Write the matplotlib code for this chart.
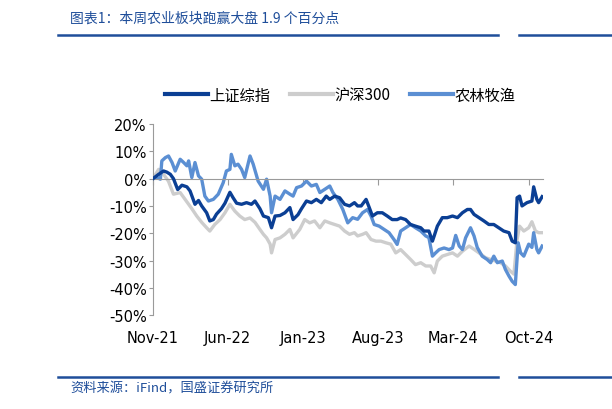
import matplotlib

matplotlib.use("Agg")
import matplotlib.dates as mdates
import matplotlib.pyplot as plt
import pandas as pd
from matplotlib.lines import Line2D
from matplotlib.ticker import FuncFormatter

plt.rcParams["font.family"] = ["DejaVu Sans", "Noto Sans CJK SC"]

TITLE = "图表1：本周农业板块跑赢大盘 1.9 个百分点"
SOURCE = "资料来源：iFind，国盛证券研究所"
SERIES_NAMES = ["上证综指", "沪深300", "农林牧渔"]

# 上证综指 (cumulative change, %)
sh_dates = [
    "2021-11-01", "2021-11-17", "2021-12-01", "2021-12-10", "2021-12-20", "2021-12-29",
    "2022-01-10", "2022-01-22", "2022-02-05", "2022-02-14", "2022-02-28", "2022-03-10",
    "2022-03-19", "2022-04-02", "2022-04-11", "2022-04-21", "2022-04-30", "2022-05-14",
    "2022-05-24", "2022-06-07", "2022-06-16", "2022-06-26", "2022-07-10", "2022-07-24",
    "2022-08-07", "2022-08-17", "2022-08-31", "2022-09-10", "2022-09-24", "2022-10-03",
    "2022-10-13", "2022-10-27", "2022-11-10", "2022-11-24", "2022-12-03", "2022-12-17",
    "2022-12-27", "2023-01-10", "2023-01-24", "2023-02-07", "2023-02-21", "2023-03-07",
    "2023-03-17", "2023-03-31", "2023-04-14", "2023-04-28", "2023-05-12", "2023-05-26",
    "2023-06-04", "2023-06-14", "2023-06-28", "2023-07-07", "2023-07-16", "2023-07-30",
    "2023-08-13", "2023-08-27", "2023-09-10", "2023-09-24", "2023-10-04", "2023-10-18",
    "2023-11-01", "2023-11-15", "2023-11-30", "2023-12-09", "2023-12-23", "2024-01-02",
    "2024-01-07", "2024-01-16", "2024-01-30", "2024-02-13", "2024-02-28", "2024-03-13",
    "2024-03-27", "2024-04-10", "2024-04-19", "2024-04-29", "2024-05-13", "2024-05-27",
    "2024-06-10", "2024-06-24", "2024-07-08", "2024-07-22", "2024-08-06", "2024-08-15",
    "2024-08-24", "2024-08-29", "2024-09-05", "2024-09-12", "2024-09-26", "2024-10-10",
    "2024-10-15", "2024-10-24", "2024-10-29", "2024-11-08",
]
sh_values = [
    0, 1.6, 2.8, 2.4, 1.6, 0,
    -4, -2.4, -3, -4.5, -9.4, -8,
    -10, -12.5, -15.5, -15, -13, -11,
    -9, -5, -7, -9, -9.4, -8.8,
    -9.4, -8.2, -11, -13.7, -14.3, -18,
    -13.7, -13.5, -12.5, -10.6, -15, -13.2,
    -11, -8.2, -8.8, -7.6, -8.8, -6.4,
    -7.6, -6.4, -7, -9.4, -10, -8.8,
    -10, -10, -7.6, -10.6, -13.7, -12.5,
    -12.5, -13.7, -15, -15, -14.4, -15,
    -16.8, -17.4, -18, -19.2, -19.2, -22.9,
    -21, -17.4, -14.3, -14.3, -13.7, -14.3,
    -12.5, -11.3, -11.3, -13.1, -14.3, -15.5,
    -16.8, -16.8, -18, -19.2, -19.8, -22.9,
    -23.5, -7, -6.4, -10, -8.8, -8.2,
    -3, -7.6, -8.8, -6.6,
]

# 沪深300
hs_dates = [
    "2021-11-01", "2021-11-17", "2021-12-01", "2021-12-15", "2021-12-29", "2022-01-17",
    "2022-01-31", "2022-02-19", "2022-03-05", "2022-03-19", "2022-04-02", "2022-04-11",
    "2022-04-25", "2022-05-10", "2022-05-24", "2022-06-07", "2022-06-21", "2022-07-05",
    "2022-07-19", "2022-08-03", "2022-08-17", "2022-08-31", "2022-09-10", "2022-09-19",
    "2022-09-29", "2022-10-03", "2022-10-13", "2022-10-27", "2022-11-10", "2022-11-24",
    "2022-12-03", "2022-12-22", "2023-01-05", "2023-01-19", "2023-02-02", "2023-02-17",
    "2023-03-03", "2023-03-17", "2023-03-31", "2023-04-14", "2023-04-28", "2023-05-12",
    "2023-05-26", "2023-06-04", "2023-06-18", "2023-06-28", "2023-07-12", "2023-07-26",
    "2023-08-09", "2023-08-23", "2023-09-06", "2023-09-20", "2023-10-04", "2023-10-18",
    "2023-11-01", "2023-11-15", "2023-11-30", "2023-12-14", "2023-12-28", "2024-01-07",
    "2024-01-16", "2024-01-30", "2024-02-13", "2024-02-28", "2024-03-13", "2024-03-27",
    "2024-04-15", "2024-04-29", "2024-05-13", "2024-06-01", "2024-06-15", "2024-06-29",
    "2024-07-13", "2024-07-27", "2024-08-10", "2024-08-20", "2024-08-29", "2024-09-05",
    "2024-09-17", "2024-10-01", "2024-10-10", "2024-10-20", "2024-10-29", "2024-11-08",
]
hs_values = [
    0, 3.4, 1.6, -1, -5.7, -5.1,
    -7.6, -11, -13.7, -16, -18, -19.2,
    -16.8, -15, -12.5, -9.4, -11.9, -13.7,
    -15, -14.4, -16, -18.6, -20.4, -21.7,
    -24, -27.2, -22.3, -21.7, -20.4, -18.6,
    -21.7, -18.6, -15, -16.2, -15.5, -18,
    -15.5, -16.2, -16.8, -17.4, -19.2, -20.4,
    -19.8, -21, -20.4, -19.8, -22.3, -22.9,
    -22.9, -23.5, -24, -27.2, -26, -27.8,
    -29.6, -31.5, -30.8, -32, -32, -34.5,
    -30.2, -28.4, -27.8, -27.2, -28.4, -26.6,
    -24.7, -25.9, -27.2, -29, -29.6, -30.2,
    -30.8, -32, -33.9, -35, -22.3, -17.4,
    -19.2, -18, -15.8, -19.2, -19.8, -19.8,
]

# 农林牧渔
ag_dates = [
    "2021-11-01", "2021-11-12", "2021-11-22", "2021-11-26", "2021-12-06", "2021-12-15",
    "2021-12-25", "2022-01-03", "2022-01-17", "2022-01-27", "2022-02-05", "2022-02-10",
    "2022-02-19", "2022-02-28", "2022-03-10", "2022-03-19", "2022-03-28", "2022-04-07",
    "2022-04-21", "2022-05-05", "2022-05-19", "2022-05-28", "2022-06-07", "2022-06-11",
    "2022-06-21", "2022-06-30", "2022-07-10", "2022-07-19", "2022-08-03", "2022-08-12",
    "2022-08-26", "2022-09-10", "2022-09-19", "2022-09-29", "2022-10-03", "2022-10-13",
    "2022-10-27", "2022-11-10", "2022-11-24", "2022-12-03", "2022-12-13", "2022-12-27",
    "2023-01-10", "2023-01-24", "2023-02-07", "2023-02-17", "2023-03-03", "2023-03-17",
    "2023-03-26", "2023-04-09", "2023-04-23", "2023-05-07", "2023-05-21", "2023-06-04",
    "2023-06-18", "2023-07-02", "2023-07-12", "2023-07-21", "2023-08-04", "2023-08-18",
    "2023-09-01", "2023-09-15", "2023-09-24", "2023-10-04", "2023-10-18", "2023-11-01",
    "2023-11-15", "2023-11-30", "2023-12-14", "2023-12-23", "2024-01-02", "2024-01-11",
    "2024-01-21", "2024-02-04", "2024-02-18", "2024-02-28", "2024-03-08", "2024-03-18",
    "2024-03-27", "2024-04-05", "2024-04-19", "2024-04-29", "2024-05-08", "2024-05-22",
    "2024-06-05", "2024-06-15", "2024-06-24", "2024-07-04", "2024-07-18", "2024-07-27",
    "2024-08-06", "2024-08-15", "2024-08-24", "2024-09-01", "2024-09-08", "2024-09-17",
    "2024-10-01", "2024-10-10", "2024-10-15", "2024-10-24", "2024-10-29", "2024-11-08",
]
ag_values = [
    0, 0.4, -0.2, 6.5, 7.7, 8.3,
    5.9, 2.8, 7.1, 5.9, 4.7, 6.5,
    0.4, 5.9, 1, -0.2, -6.4, -8.2,
    -7.6, -5.7, -1.5, 2.8, 3.4, 8.9,
    4.7, 5.3, 3.4, 0.4, 8.3, 5.3,
    -0.9, -3.9, -0.2, -6.4, -12.5, -6.4,
    -7.6, -4.5, -5.7, -6.4, -3.3, -2.7,
    -0.9, -2.7, -2.1, -5.1, -3.9, -2.7,
    -5.1, -7.6, -11.3, -16.2, -14.3, -14.9,
    -12.5, -11.3, -13.7, -16.8, -17.4, -18.6,
    -19.8, -22.3, -24.1, -19.2, -18, -16.8,
    -18, -19.2, -21, -21.6, -28.4, -27.2,
    -26, -25.4, -26, -25.4, -20.8, -24.7,
    -26, -21.7, -18, -21, -25.2, -28.4,
    -29.6, -30.8, -28.4, -30.8, -30.2, -33.3,
    -35.7, -37.6, -38.8, -23.5, -27.2, -28.4,
    -24, -25.2, -19.8, -25.9, -27.2, -24.7,
]

tick_months = ["2021-11-01", "2022-06-01", "2023-01-01", "2023-08-01", "2024-03-01", "2024-10-01"]
y_ticks = [20, 10, 0, -10, -20, -30, -40, -50]

DARK = "#0B3F94"
GRAY = "#CDCDCD"
LIGHT = "#5B8FD3"
HEAD = "#1F4E9A"
CJK = ["Noto Sans CJK SC", "DejaVu Sans"]

fig = plt.figure(figsize=(6.12, 4.1), dpi=100)
ax = fig.add_axes([0.25, 0.229, 0.637, 0.466])

ax.plot(pd.to_datetime(sh_dates), sh_values, color=DARK, lw=2.4, label=SERIES_NAMES[0], zorder=3)
ax.plot(pd.to_datetime(hs_dates), hs_values, color=GRAY, lw=2.4, label=SERIES_NAMES[1], zorder=2)
ax.plot(pd.to_datetime(ag_dates), ag_values, color=LIGHT, lw=2.4, label=SERIES_NAMES[2], zorder=2.5)

ax.set_xlim(pd.Timestamp("2021-11-01"), pd.Timestamp("2024-11-10"))
ax.set_ylim(-50, 20)
ax.set_yticks(y_ticks)
ax.yaxis.set_major_formatter(FuncFormatter(lambda v, _: f"{v:.0f}%"))

# horizontal axis crosses at 0, labels stay at the bottom
ax.spines["bottom"].set_position(("data", 0))
ax.spines["bottom"].set_color("#9A9A9A")
ax.spines["left"].set_color("#9A9A9A")
ax.spines["top"].set_visible(False)
ax.spines["right"].set_visible(False)
ticks = mdates.date2num(pd.to_datetime(tick_months))
ax.set_xticks(ticks)
ax.tick_params(axis="x", direction="out", length=4, color="#9A9A9A", labelbottom=False)
ax.tick_params(axis="y", direction="out", length=3, color="#9A9A9A", labelsize=10.5, pad=1.5)

sec = ax.secondary_xaxis(0)
sec.set_xticks(ticks)
sec.set_xticklabels([pd.Timestamp(t).strftime("%b-%y") for t in tick_months])
sec.spines["bottom"].set_visible(False)
sec.tick_params(length=0, labelsize=10.5, pad=11)

leg = ax.legend(
    loc="center", bbox_to_anchor=(0.556, 0.766), bbox_transform=fig.transFigure,
    ncol=3, frameon=False, handlelength=2.8, handletextpad=0.1, columnspacing=1.3,
    prop={"family": CJK, "size": 11},
)
for line in leg.get_lines():
    line.set_linewidth(3)

fig.text(0.115, 0.955, TITLE, color=HEAD, fontsize=10, style="italic", family=CJK, va="center")
fig.text(0.115, 0.052, SOURCE, color=HEAD, fontsize=9.5, style="italic", family=CJK, va="center")
for y in (0.912, 0.078):
    fig.add_artist(Line2D([0.095, 0.814], [y, y], color=HEAD, lw=1.8))
    fig.add_artist(Line2D([0.848, 1.0], [y, y], color=HEAD, lw=1.8))

fig.savefig("out.png", dpi=100)
